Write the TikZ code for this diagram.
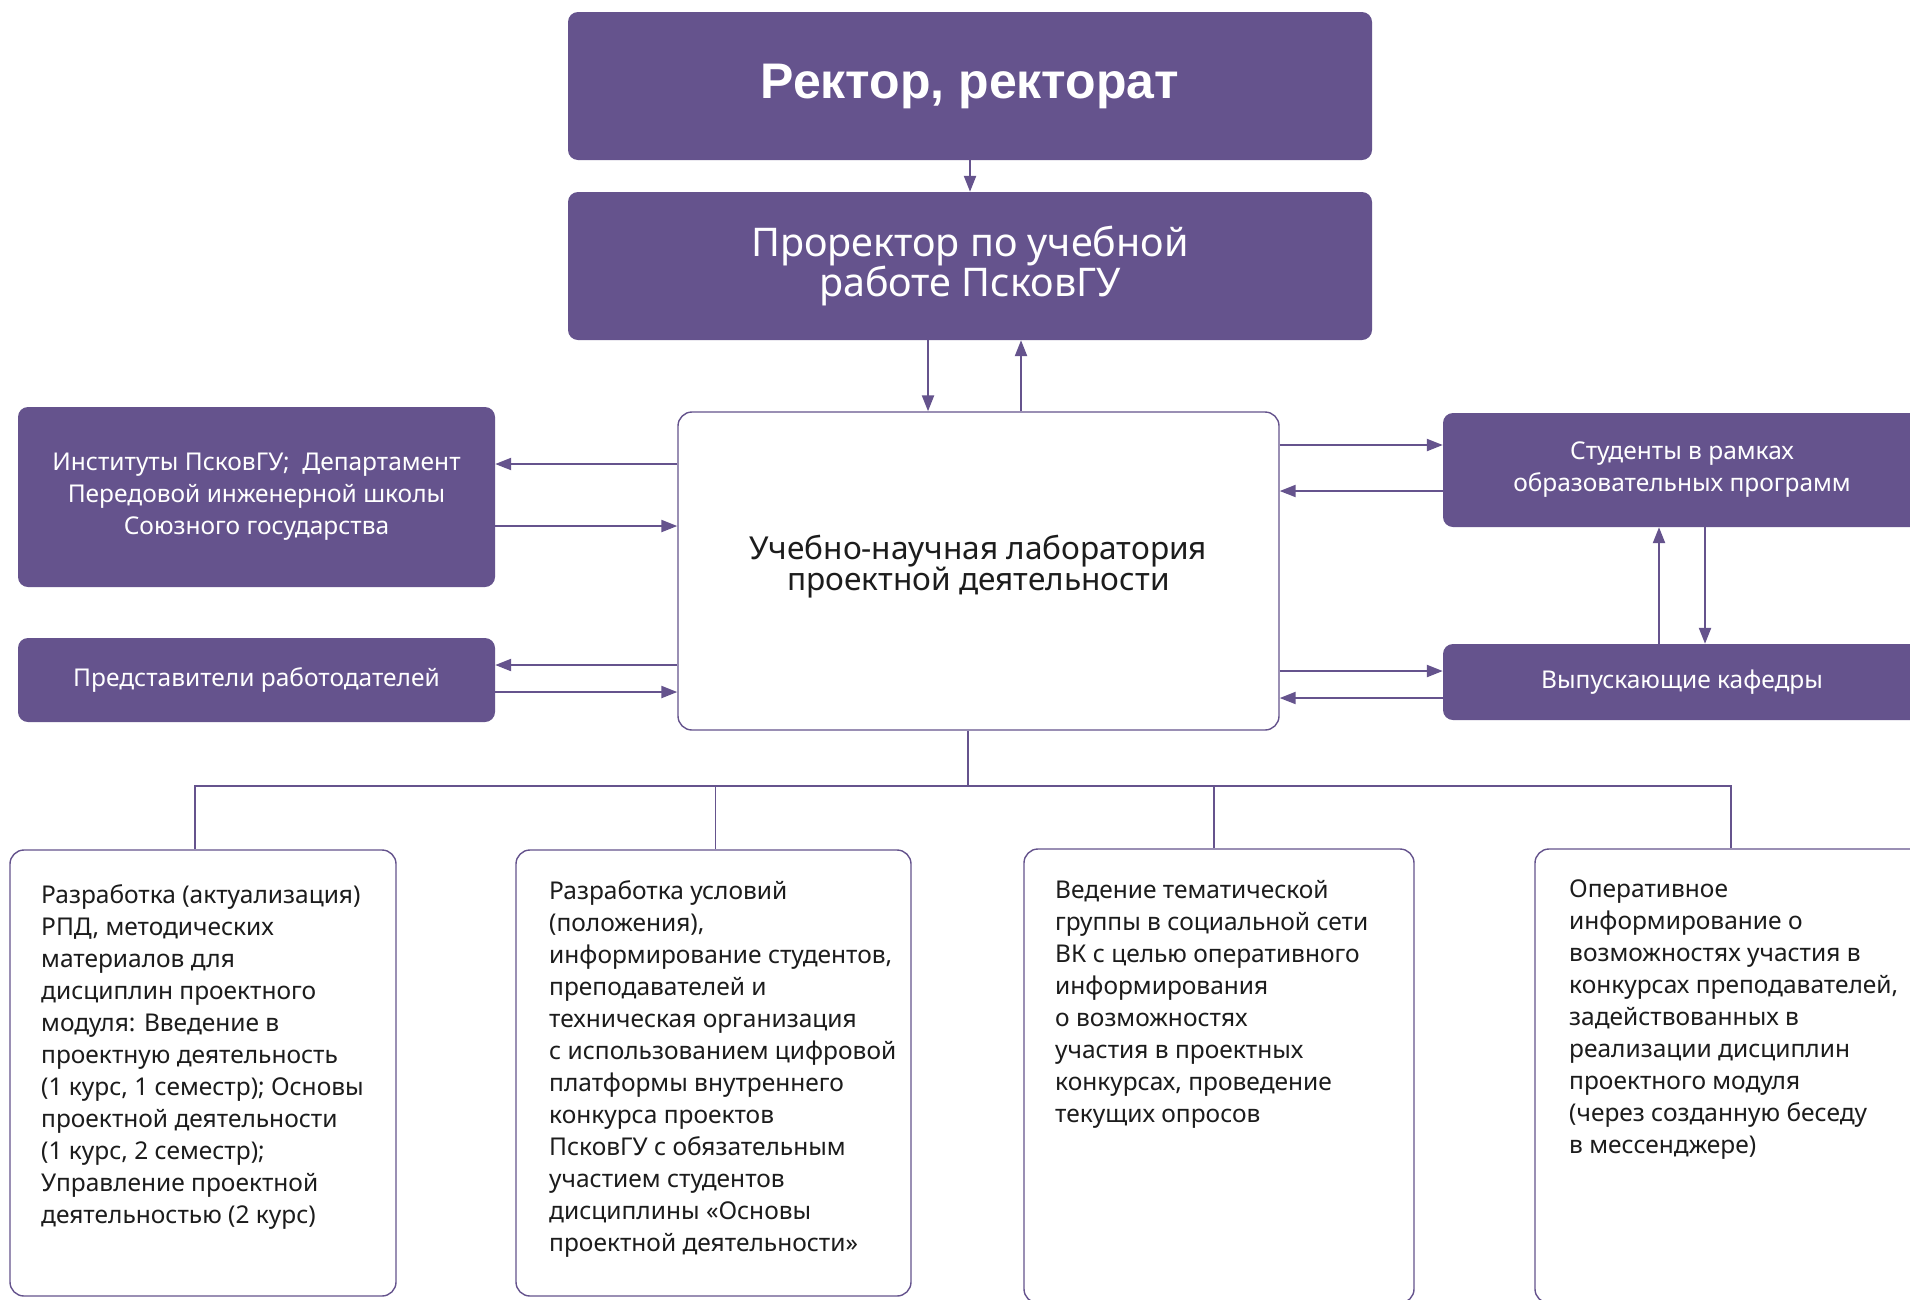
\documentclass[tikz,border=0pt]{standalone}
\usepackage{fontspec}
\setmainfont{Noto Sans}
\newfontfamily\titlefont{Liberation Sans}
\usetikzlibrary{arrows.meta,positioning}
\definecolor{plum}{RGB}{101,83,141}
\definecolor{ink}{RGB}{28,28,28}
\tikzset{
  dark/.style={fill=plum, rounded corners=10pt, text=white, align=center, inner sep=0pt, font=\fontsize{24.5}{32}\selectfont},
  light/.style={draw=plum, line width=1.4pt, fill=white, rounded corners=14pt, inner sep=0pt},
  blurb/.style={anchor=north west, align=left, text=ink, inner sep=0pt, font=\fontsize{24.5}{32}\selectfont},
  arr/.style={plum, line width=2.2pt, -{Triangle[length=16pt,width=12pt]}},
  tree/.style={plum, line width=1.4pt}
}
\begin{document}
\begin{tikzpicture}[x=1pt, y=-1pt]
  \clip (0,0) rectangle (1910,1299);
  \fill[white] (0,0) rectangle (1910,1299);

  \node[dark, minimum width=804pt, minimum height=148pt, font=\titlefont\bfseries\fontsize{50}{54}\selectfont] (rector) at (970,86) {Ректор, ректорат};
  \node[dark, minimum width=804pt, minimum height=148pt, font=\fontsize{39.5}{39}\selectfont] (pror) at (970,266) {Проректор по учебной\\работе ПсковГУ};
  \node[light, minimum width=601pt, minimum height=318pt, align=center, text=ink, font=\fontsize{31.6}{31}\selectfont] (lab) at (978.5,571) {Учебно-научная лаборатория\\проектной деятельности\vspace{8pt}};

  \node[dark, minimum width=477pt, minimum height=180pt] (inst) at (256.5,497) {Институты ПсковГУ;\ \ Департамент\\Передовой инженерной школы\\Союзного государства};
  \node[dark, minimum width=477pt, minimum height=84pt] (empl) at (256.5,680) {Представители работодателей};
  \node[dark, minimum width=478pt, minimum height=114pt] (stud) at (1682,470) {Студенты в рамках\\образовательных программ};
  \node[dark, minimum width=478pt, minimum height=76pt] (kaf) at (1682,682) {Выпускающие кафедры};

  \node[light, minimum width=386pt, minimum height=446pt] (b1) at (203,1073) {};
  \node[light, minimum width=395pt, minimum height=446pt] (b2) at (713.5,1073) {};
  \node[light, minimum width=390pt, minimum height=454pt] (b3) at (1219,1076) {};
  \node[light, minimum width=392pt, minimum height=454pt] (b4) at (1731,1076) {};

  \node[blurb] (b1t) at (41,884) {Разработка (актуализация)\\РПД, методических\\материалов для\\дисциплин проектного\\модуля: Введение в\\проектную деятельность\\(1 курс, 1 семестр); Основы\\проектной деятельности\\(1 курс, 2 семестр);\\Управление проектной\\деятельностью (2 курс)};
  \node[blurb] (b2t) at (549,880) {Разработка условий\\(положения),\\информирование студентов,\\преподавателей и\\техническая организация\\с использованием цифровой\\платформы внутреннего\\конкурса проектов\\ПсковГУ с обязательным\\участием студентов\\дисциплины «Основы\\проектной деятельности»};
  \node[blurb] (b3t) at (1055,880) {Ведение тематической\\группы в социальной сети\\ВК с целью оперативного\\информирования\\о возможностях\\участия в проектных\\конкурсах, проведение\\текущих опросов};
  \node[blurb] (b4t) at (1569,880) {Оперативное\\информирование о\\возможностях участия в\\конкурсах преподавателей,\\задействованных в\\реализации дисциплин\\проектного модуля\\(через созданную беседу\\в мессенджере)};

  \draw[arr] (rector) -- (pror);
  \draw[arr] ([xshift=-42pt]pror.south) -- ([xshift=-42pt]pror.south |- lab.north);
  \draw[arr] ([xshift=51pt]pror.south |- lab.north) -- ([xshift=51pt]pror.south);

  \draw[arr] (lab.west |- 0,464) -- (inst.east |- 0,464);
  \draw[arr] (inst.east |- 0,526) -- (lab.west |- 0,526);
  \draw[arr] (lab.west |- 0,665) -- (empl.east |- 0,665);
  \draw[arr] (empl.east |- 0,692) -- (lab.west |- 0,692);

  \draw[arr] (lab.east |- 0,445) -- (stud.west |- 0,445);
  \draw[arr] (stud.west |- 0,491) -- (lab.east |- 0,491);
  \draw[arr] (lab.east |- 0,671) -- (kaf.west |- 0,671);
  \draw[arr] (kaf.west |- 0,698) -- (lab.east |- 0,698);

  \draw[arr] (kaf.north -| 1659,0) -- (stud.south -| 1659,0);
  \draw[arr] (stud.south -| 1705,0) -- (kaf.north -| 1705,0);

  \coordinate (hub) at (968,786);
  \draw[tree] (lab.south -| hub) -- (hub);
  \draw[tree] ([xshift=-8pt]b1.north) |- (hub);
  \draw[tree] ([xshift=2pt]b2.north) |- (hub);
  \draw[tree] ([xshift=-5pt]b3.north) |- (hub);
  \draw[tree] (b4.north) |- (hub);
\end{tikzpicture}
\end{document}
